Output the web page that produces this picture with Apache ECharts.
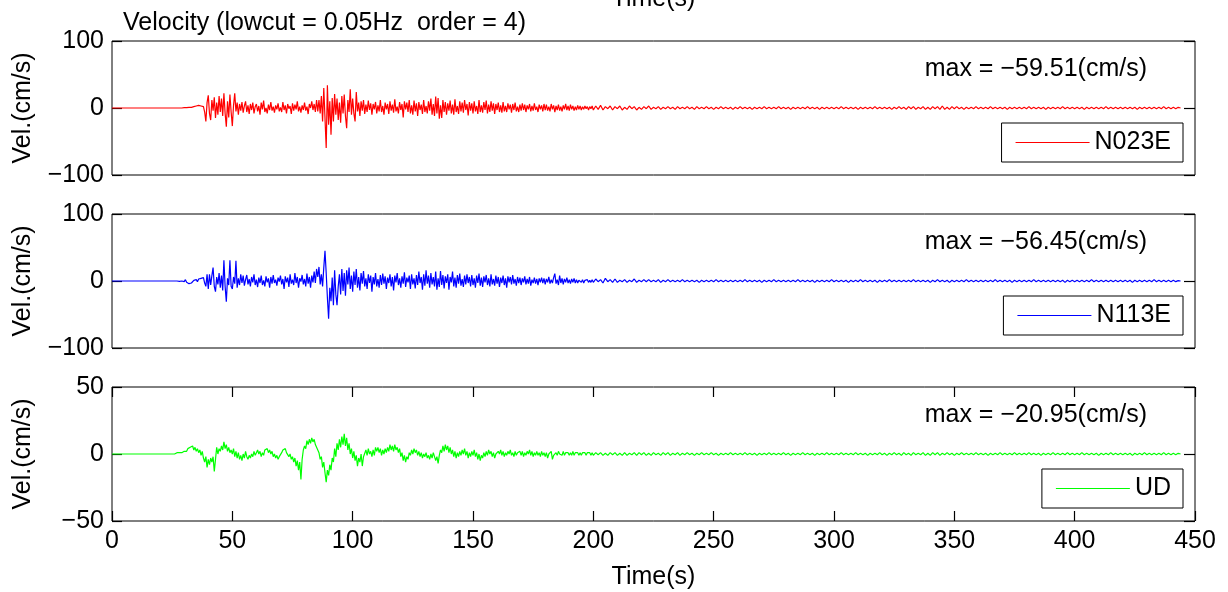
<!DOCTYPE html>
<html>
<head>
<meta charset="utf-8">
<script src="https://cdn.jsdelivr.net/npm/echarts@6/dist/echarts.min.js"></script>
<style>
html,body{margin:0;padding:0;background:#fff;}
#chart{width:1228px;height:592px;}
</style>
</head>
<body>
<div id="chart"></div>
<script>
// ---------------- data (cm/s) ----------------
// strong-motion part: samples every 0.5 s from t = 0 to 199.5 s
// coda part: samples every 1 s from t = 200 to 444 s
const DT_STRONG = 0.5;
const T_CODA_START = 200;
const DT_CODA = 1;

const xTicks = [0, 50, 100, 150, 200, 250, 300, 350, 400, 450];
const channelNames = ['N023E', 'N113E', 'UD'];
const maxLabels = ['max = \u221259.51(cm/s)', 'max = \u221256.45(cm/s)', 'max = \u221220.95(cm/s)'];
const yLimits = [100, 100, 50];

const n023eStrong = [
0,0,0,0,0,0,0,0,0,0,0,0,0,0,0,0,0,0,0,0,
0,0,0,0,0,0,0,0,0,0,0,0,0,0,0,0,0,0,0,0,
0,0,0,0,0,0,0,0,0,0.5,0,0.5,0,0.5,0,1,0,1,0,1,
0.5,1.5,0.5,2,1,2.5,1,3,2,4,3,5,4,6,3,5,2,-6,-20,8,
19,-8,-18,12,-4,16,-15,8,-10,18,-6,14,-12,22,-8,-28,10,-14,20,-6,
-27,4,22,-5,8,-10,6,-4,9,-7,3,10,-6,4,-9,6,-3,8,-8,2,
6,-5,3,-10,8,-2,11,-6,0,-8,5,-3,9,-4,2,-7,4,-2,7,-5,
1,-6,9,-3,4,-8,6,-1,3,-9,7,-4,5,-2,10,-5,2,-7,4,-3,
8,-4,2,-9,6,0,10,-3,6,-6,12,-5,12,-8,18,-20,30,-15,-59.51,34,
-25,10,-40,15,-20,21,-10,14,-18,8,-22,18,-8,20,-12,-30,12,-6,28,-10,
14,-8,-20,24,-5,8,-12,10,-4,12,-9,5,-6,11,-3,7,-10,6,-2,9,
-8,4,-5,12,-6,3,-10,8,-2,6,-9,10,-4,5,-7,13,-5,2,-8,9,
-3,6,-14,10,-2,8,-6,12,-8,4,-10,11,-5,7,-12,9,-3,5,-9,12,
-6,3,-8,10,-4,14,-10,6,-12,17,-8,15,-16,4,-15,12,-6,9,-10,7,
-4,11,-8,5,-10,13,-6,3,-9,10,-5,8,-7,12,-3,6,-11,9,-4,7,
-8,10,-5,3,-9,12,-6,4,-7,9,-3,11,-8,5,-6,10,-4,7,-9,6,
-3,8,-6,4,-7,9,-5,3,-6,7,-2,5,-7,6,-3,8,-5,2,-6,5,
-4,7,-3,5,-6,4,-2,6,-5,3,-4,7,-3,2,-6,5,-2,4,-5,6,
-3,5,-4,2,-5,6,-2,4,-6,3,-3,5,-4,2,-5,4,-2,6,-3,3,
-4,5,-2,3,-4,2,-3,4,-2,3,-3,2,-2,3,-1,2,-3,2,-1,3
];
const n023eCoda = [
-3,3,-2,4,-3,2,-1,3,-3,2,-1,3,-3,1,-2,3,-1,2,-3,1,
-2,2,-1,3,-2,1,-1,2,-2,1,-1,2,-1,1,-2,2,-1,1,-1,2,
-1,1,-2,2,-1,1,-1,2,-1,1,-2,1,-1,2,-1,1,-1,1,-2,1,
-1,2,-1,1,-1,1,-2,1,-1,1,-1,2,-1,1,-1,1,-1,2,-1,1,
-1,1,-2,1,-1,1,-1,1,-1,2,-1,1,-1,1,-2,1,-1,1,-1,1,
-1,1,-1,2,-1,1,-1,1,-1,1,-2,1,-1,1,-1,1,-1,2,-1,1,
-1,1,-1,1,-2,1,-1,2,-1,1,-2,2,-1,2,-2,1,-1,2,-2,1,
-2,2,-1,2,-2,3,-2,1,-2,2,-1,2,-1,1,-2,1,-1,1,-1,2,
-1,1,-1,1,-1,2,-1,1,-1,1,-1,1,-2,1,-1,1,-1,1,-1,1,
-1,2,-1,1,-1,1,-1,1,-2,1,-1,1,-1,1,-1,2,-1,1,-1,1,
-1,1,-1,1,-2,1,-1,1,-1,1,-1,1,-1,2,-1,1,-1,1,-1,1,
-1,1,-1,1,-1,1,-2,1,-1,1,-1,1,-1,1,-1,1,-1,2,-1,1,
-1,1,-1,1,0
];

const n113eStrong = [
0,0,0,0,0,0,0,0,0,0,0,0,0,0,0,0,0,0,0,0,
0,0,0,0,0,0,0,0,0,0,0,0,0,0,0,0,0,0,0,0,
0,0,0,0,0,0,0,0,0,0,0,0,0,0.5,0,1,-0.5,1,0,1.5,
-1,2,-2,0,-4,-5,-3,-1,1,0,2,-1,3,1,4,2,5,-3,-8,10,
-12,10,-6,8,20,-8,-16,6,-5,12,-10,8,-14,31,-8,-31,4,-6,31,-8,
-12,6,-4,30,-10,4,-6,10,-3,8,-7,2,9,-5,3,-8,6,-2,10,-6,
2,-9,5,-3,8,-6,1,-8,7,-2,4,-10,6,-4,9,-3,2,-7,5,-1,
8,-5,3,-12,7,-2,5,-9,10,-4,2,-6,12,-3,6,-10,4,-1,9,-5,
3,-8,11,-4,6,-10,8,-2,14,-3,18,6,21,-5,10,-8,20,45,12,-25,
-56.45,-10,-30,5,-36,16,-20,-36,-8,10,-20,18,-15,12,-22,16,-5,20,-12,8,
-16,14,-6,18,-10,6,-14,12,-4,15,-8,4,-12,10,-3,8,-16,6,-5,12,
-8,3,-10,9,-6,11,-4,7,-12,5,-3,10,-8,6,-14,8,-2,12,-6,4,
-10,7,-4,13,-9,5,-2,8,-12,10,-5,4,-11,9,-6,14,-3,6,-13,10,
-7,16,-4,8,-10,12,-5,6,-8,14,-13,4,-9,15,-6,9,-11,7,-3,10,
-13,6,-2,14,-8,5,-10,9,-4,11,-7,3,-9,8,-5,10,-3,6,-8,9,
-6,4,-10,8,-3,11,-7,5,-9,7,-2,9,-6,4,-8,10,-5,3,-7,8,
-4,6,-9,5,-3,8,-6,4,-10,7,-2,6,-5,9,-4,3,-7,6,-3,5,
-6,4,-2,7,-5,3,-4,6,-7,2,-3,5,-4,3,-6,4,-2,5,-3,4,
-5,3,-2,6,-4,2,-3,5,11,-4,2,-6,8,-3,4,-5,3,-2,5,-3,
2,-4,3,-2,4,-3,2,-3,1,3,-2,2,-3,1,-1,2,-2,1,-2,2
];
const n113eCoda = [
-2,3,-1,2,-3,4,-1,2,-2,3,-2,1,-1,2,-2,1,-1,3,-2,1,
-1,2,-1,2,-1,1,-1,2,-2,1,-1,2,-1,1,-1,1,-1,2,-1,1,
-1,1,-1,1,-2,1,-1,1,-1,1,-1,2,-1,1,-1,1,-1,1,-1,1,
-1,1,-1,2,-1,1,-1,1,-1,1,-2,1,-1,1,-1,2,-1,1,-1,1,
-1,1,-1,1,-1,2,-1,1,-1,1,-1,1,-2,1,-1,1,-1,1,-1,2,
-1,1,-1,1,-1,1,-2,1,-1,1,-1,2,-1,1,-1,1,-1,1,-2,1,
-1,1,-1,2,-1,1,-1,1,-1,1,-1,1,-1,2,-1,1,-1,1,-1,1,
-2,1,-1,2,-1,1,-1,1,-2,1,-1,1,-1,1,-1,2,-1,1,-1,1,
-1,1,-1,1,-1,1,-1,2,-1,1,-1,1,-1,1,-2,1,-1,1,-1,1,
-1,1,-1,2,-1,1,-1,1,-1,1,-1,1,-1,1,-1,1,-2,1,-1,1,
-1,1,-1,1,-1,1,-1,2,-1,1,-1,1,-1,1,-1,1,-1,1,-1,1,
-1,1,-1,1,-2,1,-1,1,-1,1,-1,1,-1,2,-1,1,-1,1,-1,1,
-1,1,-1,0.5,0
];

const udStrong = [
0,0,0,0,0,0,0,0,0,0,0,0,0,0,0,0,0,0,0,0,
0,0,0,0,0,0,0,0,0,0,0,0,0,0,0,0,0,0,0,0,
0,0,0,0,0,0,0,0,0,0,0,0.5,0,0.5,1,0.5,1,1.5,1,2,
2,3,2,4,3,5,4,6,3,5,2,4,1,3,-1,2,-3,-6,-2,-10,
-4,-8,-3,-6,-2,-13,-4,5,0,4,2,6,3,9,4,7,2,5,1,3,
0,4,-2,2,-3,1,-4,-1,-5,0,-3,2,-2,-4,-1,-3,0,-2,2,-1,
1,3,0,2,-2,1,-1,3,2,4,1,3,0,2,-2,0,-3,-1,-4,-2,
-1,1,3,2,4,1,2,-2,0,-4,-2,-6,-3,-9,-5,-12,-6,-19,-4,3,
6,4,10,7,11,8,12,9,11,7,8,3,1,-4,-2,-10,-6,-14,-20.95,-12,
-16,-8,-12,-3,-6,4,-2,8,3,11,5,13,7,15,6,12,3,8,0,4,
-3,2,-5,-1,-9,-3,-6,0,-9,-2,-2,3,-1,4,0,2,-2,3,-1,5,
2,5,1,4,-1,3,0,4,1,5,2,7,3,6,2,7,3,5,1,4,
-2,1,-5,-1,-6,-2,-4,1,-1,3,0,4,1,3,-1,2,-2,1,-3,0,
-2,1,-3,-1,-4,0,-3,1,-2,-5,-2,-7,-1,3,1,6,2,7,3,6,
1,5,0,3,-2,2,-3,1,-2,2,-1,3,0,4,-1,2,-3,1,-2,2,
-1,3,-2,1,-4,0,-5,-1,-3,1,-2,2,-1,3,0,2,-2,1,-3,0,
-1,2,0,3,-1,2,-2,1,-1,2,0,3,-1,1,-2,2,-1,1,0,2,
-1,2,-2,1,-1,2,0,3,-1,2,-2,1,-1,2,-1,1,-2,2,-1,1,
-2,1,-3,0,-1,2,-4,-1,-2,1,-1,2,0,1,-1,2,-1,1,0,1,
-1,1,-1,2,-1,1,0,1,-1,1,-1,1,0,1,-1,1,0,1,-1,1
];
const udCoda = [
-1,1,-0.5,1,-1,0.5,-1,1,-0.5,1,-1,0.5,-1,1,-1,0.5,-0.5,1,-1,1,
-0.5,1,-1,0.5,-1,1,-0.5,0.5,-1,1,-0.5,1,-1,0.5,-0.5,1,-1,0.5,-0.5,1,
-0.5,0.5,-1,0.5,-0.5,1,-0.5,0.5,-0.5,1,-0.5,0.5,-1,0.5,-0.5,0.5,-0.5,1,-0.5,0.5,
-0.5,0.5,-0.5,1,-0.5,0.5,-0.5,0.5,-1,0.5,-0.5,0.5,-0.5,1,-0.5,0.5,-0.5,0.5,-0.5,1,
-0.5,0.5,-1,0.5,-0.5,0.5,-0.5,1,-0.5,0.5,-0.5,0.5,-1,0.5,-0.5,0.5,-0.5,1,-0.5,0.5,
-0.5,0.5,-0.5,1,-0.5,0.5,-0.5,0.5,-0.5,1,-0.5,0.5,-0.5,0.5,-1,0.5,-0.5,0.5,-0.5,1,
-0.5,0.5,-1,0.5,-0.5,1,-0.5,0.5,-1,1,-0.5,0.5,-1,1,-0.5,0.5,-0.5,1,-1,0.5,
-1,1,-0.5,1,-1,0.5,-0.5,1,-0.5,0.5,-1,0.5,-0.5,1,-0.5,0.5,-0.5,0.5,-0.5,1,
-0.5,0.5,-0.5,0.5,-1,0.5,-0.5,0.5,-0.5,1,-0.5,0.5,-0.5,0.5,-0.5,1,-0.5,0.5,-0.5,0.5,
-0.5,1,-0.5,0.5,-0.5,0.5,-1,0.5,-0.5,0.5,-0.5,1,-0.5,0.5,-0.5,0.5,-0.5,1,-0.5,0.5,
-0.5,0.5,-0.5,1,-0.5,0.5,-0.5,0.5,-0.5,0.5,-1,0.5,-0.5,0.5,-0.5,1,-0.5,0.5,-0.5,0.5,
-0.5,0.5,-0.5,0.5,-1,0.5,-0.5,0.5,-0.5,1,-0.5,0.5,-0.5,0.5,-0.5,0.5,-0.5,1,-0.5,0.5,
-0.5,0.5,-0.5,0.5,0
];

// ---------------- chart ----------------
function toPairs(strong, coda) {
  const out = [];
  strong.forEach((v, i) => out.push([i * DT_STRONG, v]));
  coda.forEach((v, i) => out.push([T_CODA_START + i * DT_CODA, v]));
  return out;
}

const FONT = '"Liberation Sans", Arial, Helvetica, sans-serif';
const FS = 25;
const colors = ['#ff0000', '#0000ff', '#00ff00'];
const seriesData = [toPairs(n023eStrong, n023eCoda), toPairs(n113eStrong, n113eCoda), toPairs(udStrong, udCoda)];

const PLOT_LEFT = 112, PLOT_W = 1083, PLOT_H = 134;
const panelTops = [41, 214, 387];

const fmtMinus = v => (v < 0 ? '\u2212' + Math.abs(v) : String(v));

const grid = panelTops.map(t => ({
  left: PLOT_LEFT, top: t, width: PLOT_W, height: PLOT_H,
  show: true, borderColor: '#000', borderWidth: 1, backgroundColor: '#fff'
}));

const tickStyle = { color: '#000', width: 1.2 };
const xAxis = [];
panelTops.forEach((t, i) => {
  const last = i === panelTops.length - 1;
  xAxis.push({
    type: 'value', gridIndex: i, position: 'bottom', min: xTicks[0], max: xTicks[xTicks.length - 1],
    interval: xTicks[1] - xTicks[0], z: 5,
    axisLine: { show: false, onZero: false },
    axisTick: { show: last, inside: true, length: 10, lineStyle: tickStyle },
    axisLabel: { show: last, color: '#000', fontSize: FS, fontFamily: FONT, margin: 8 },
    splitLine: { show: false }
  });
  if (last) {
    xAxis.push({
      type: 'value', gridIndex: i, position: 'top', min: xTicks[0], max: xTicks[xTicks.length - 1],
      interval: xTicks[1] - xTicks[0], z: 5,
      axisLine: { show: false, onZero: false },
      axisTick: { show: true, inside: true, length: 10, lineStyle: tickStyle },
      axisLabel: { show: false }, splitLine: { show: false }
    });
  }
});

const yAxis = [];
panelTops.forEach((t, i) => {
  const L = yLimits[i];
  yAxis.push({
    type: 'value', gridIndex: i, position: 'left', min: -L, max: L, interval: L,
    name: 'Vel.(cm/s)', nameLocation: 'middle', nameGap: 76,
    nameTextStyle: { color: '#000', fontSize: FS, fontFamily: FONT },
    axisLine: { show: false, onZero: false },
    axisTick: { show: true, inside: true, length: 10, lineStyle: tickStyle },
    axisLabel: { color: '#000', fontSize: FS, fontFamily: FONT, margin: 8, formatter: fmtMinus },
    splitLine: { show: false }
  });
  yAxis.push({
    type: 'value', gridIndex: i, position: 'right', min: -L, max: L, interval: L,
    axisLine: { show: false, onZero: false },
    axisTick: { show: true, inside: true, length: 11, lineStyle: tickStyle },
    axisLabel: { show: false }, splitLine: { show: false }
  });
});

const series = channelNames.map((name, i) => ({
  name, type: 'line', xAxisIndex: i, yAxisIndex: i * 2,
  data: seriesData[i], showSymbol: false, symbol: 'none', silent: true,
  lineStyle: { color: colors[i], width: 1.2 }, itemStyle: { color: colors[i] },
  animation: false, z: 3
}));

const legend = channelNames.map((name, i) => ({
  data: [{ name, icon: 'rect' }], right: 45, top: panelTops[i] + 82, orient: 'horizontal',
  selectedMode: false, backgroundColor: '#fff', borderColor: '#000', borderWidth: 1,
  padding: [7, 12, 7, 14], itemWidth: 74, itemHeight: 1, itemGap: 5,
  textStyle: { color: '#000', fontSize: FS, fontFamily: FONT }
}));

const graphic = [
  { type: 'text', left: 123, top: 11, style: { text: 'Velocity (lowcut = 0.05Hz  order = 4)', fill: '#000', font: FS + 'px ' + FONT } },
  { type: 'text', x: PLOT_LEFT + PLOT_W / 2, y: -1, style: { text: 'Time(s)', fill: '#000', font: FS + 'px ' + FONT, textAlign: 'center', textVerticalAlign: 'middle' } },
  { type: 'text', x: PLOT_LEFT + PLOT_W / 2, y: 577, style: { text: 'Time(s)', fill: '#000', font: FS + 'px ' + FONT, textAlign: 'center', textVerticalAlign: 'middle' } }
].concat(maxLabels.map((txt, i) => ({
  type: 'text', x: 1147, y: panelTops[i] + 28, z: 10,
  style: { text: txt, fill: '#000', font: FS + 'px ' + FONT, textAlign: 'right', textVerticalAlign: 'middle' }
})));

const chart = echarts.init(document.getElementById('chart'), null, { renderer: 'canvas' });
chart.setOption({
  backgroundColor: '#fff', animation: false,
  grid, xAxis, yAxis, series, legend, graphic
});
</script>
</body>
</html>
